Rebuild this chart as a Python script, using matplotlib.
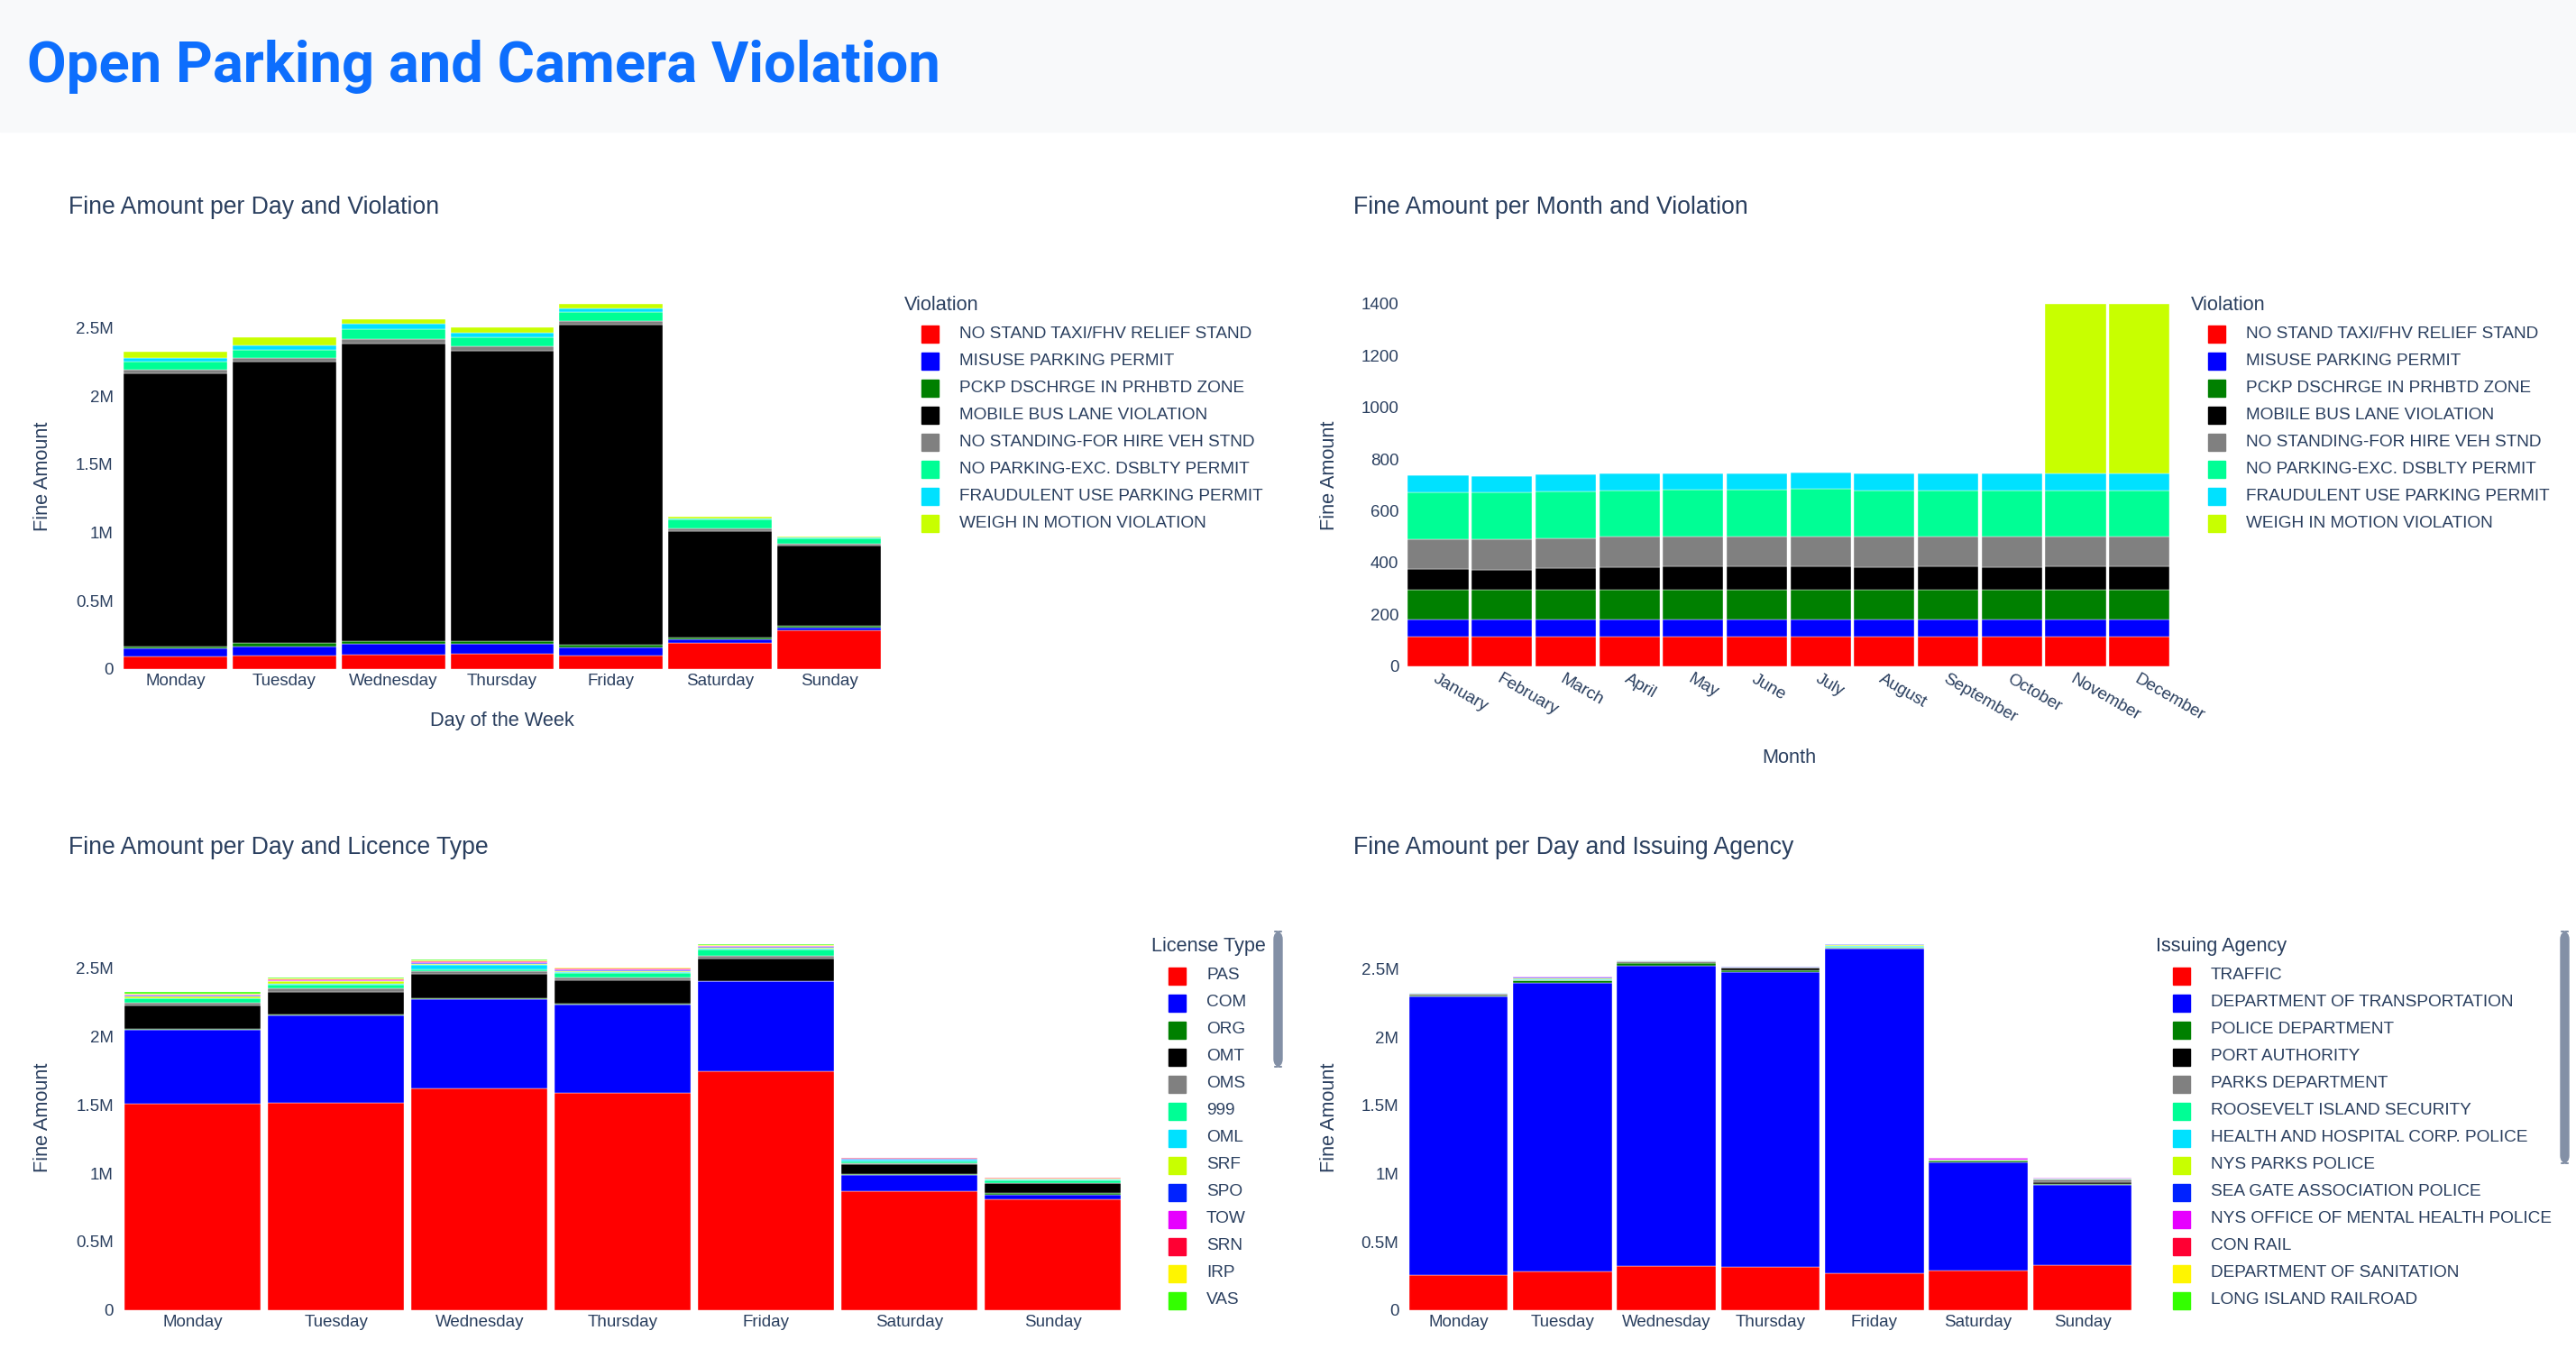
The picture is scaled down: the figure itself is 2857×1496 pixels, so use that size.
import matplotlib.pyplot as plt
from matplotlib.patches import Rectangle, FancyBboxPatch
from matplotlib.ticker import FuncFormatter, MultipleLocator
import numpy as np

# ---- data (fine amounts per day in millions, per month in raw units) ----
days = ["Monday", "Tuesday", "Wednesday", "Thursday", "Friday", "Saturday", "Sunday"]
months = ["January", "February", "March", "April", "May", "June", "July",
          "August", "September", "October", "November", "December"]

violations = ["NO STAND TAXI/FHV RELIEF STAND", "MISUSE PARKING PERMIT",
              "PCKP DSCHRGE IN PRHBTD ZONE", "MOBILE BUS LANE VIOLATION",
              "NO STANDING-FOR HIRE VEH STND", "NO PARKING-EXC. DSBLTY PERMIT",
              "FRAUDULENT USE PARKING PERMIT", "WEIGH IN MOTION VIOLATION"]

# per day and violation
day_taxi_stand = [0.092, 0.097, 0.106, 0.108, 0.097, 0.192, 0.282]
day_misuse_permit = [0.060, 0.066, 0.079, 0.077, 0.057, 0.024, 0.018]
day_pckp_dschrge = [0.013, 0.024, 0.018, 0.018, 0.022, 0.013, 0.017]
day_bus_lane = [2.000, 2.066, 2.180, 2.127, 2.346, 0.780, 0.588]
day_for_hire = [0.025, 0.027, 0.033, 0.036, 0.029, 0.022, 0.013]
day_dsblty = [0.060, 0.055, 0.073, 0.066, 0.061, 0.062, 0.040]
day_fraud = [0.028, 0.037, 0.040, 0.033, 0.029, 0.006, 0.002]
day_weigh = [0.044, 0.058, 0.033, 0.039, 0.033, 0.016, 0.009]

# per month and violation
mon_taxi_stand = [115] * 12
mon_misuse_permit = [64] * 12
mon_pckp_dschrge = [116] * 12
mon_bus_lane = [79, 78, 85, 88, 90, 89, 92, 88, 89, 88, 89, 89]
mon_for_hire = [117, 116, 115, 116, 115, 116, 114, 116, 116, 116, 116, 116]
mon_dsblty = [180, 181, 181, 181, 181, 181, 183, 181, 180, 181, 180, 180]
mon_fraud = [65, 65, 65, 64, 65, 65, 64, 65, 66, 65, 65, 65]
mon_weigh = [0, 0, 0, 0, 0, 0, 0, 0, 0, 0, 655, 655]

# per day and licence type
license_types = ["PAS", "COM", "ORG", "OMT", "OMS", "999", "OML", "SRF",
                 "SPO", "TOW", "SRN", "IRP", "VAS"]
lic_pas = [1.507, 1.514, 1.617, 1.589, 1.743, 0.869, 0.810]
lic_com = [0.541, 0.640, 0.658, 0.644, 0.660, 0.120, 0.035]
lic_org = [0.009, 0.006, 0.007, 0.009, 0.004, 0.002, 0.007]
lic_omt = [0.168, 0.168, 0.172, 0.168, 0.159, 0.073, 0.073]
lic_oms = [0.024, 0.022, 0.026, 0.022, 0.022, 0.008, 0.004]
lic_999 = [0.029, 0.029, 0.012, 0.030, 0.048, 0.014, 0.020]
lic_oml = [0.004, 0.006, 0.028, 0.008, 0.008, 0.010, 0.003]
lic_srf = [0.012, 0.018, 0.008, 0.010, 0.006, 0.006, 0.006]
lic_spo = [0.003, 0.004, 0.010, 0.005, 0.006, 0.003, 0.002]
lic_tow = [0.006, 0.006, 0.008, 0.008, 0.004, 0.002, 0.001]
lic_srn = [0.003, 0.007, 0.004, 0.004, 0.004, 0.003, 0.006]
lic_irp = [0.005, 0.006, 0.006, 0.004, 0.005, 0.003, 0.002]
lic_vas = [0.011, 0.004, 0.004, 0.003, 0.005, 0.002, 0.001]

# per day and issuing agency
agencies = ["TRAFFIC", "DEPARTMENT OF TRANSPORTATION", "POLICE DEPARTMENT",
            "PORT AUTHORITY", "PARKS DEPARTMENT", "ROOSEVELT ISLAND SECURITY",
            "HEALTH AND HOSPITAL CORP. POLICE", "NYS PARKS POLICE",
            "SEA GATE ASSOCIATION POLICE", "NYS OFFICE OF MENTAL HEALTH POLICE",
            "CON RAIL", "DEPARTMENT OF SANITATION", "LONG ISLAND RAILROAD"]
ag_traffic = [0.253, 0.284, 0.319, 0.315, 0.269, 0.289, 0.330]
ag_dot = [2.042, 2.115, 2.203, 2.163, 2.379, 0.792, 0.584]
ag_police = [0.012, 0.016, 0.024, 0.015, 0.004, 0.014, 0.011]
ag_port = [0.002, 0.002, 0.004, 0.014, 0.002, 0.002, 0.010]
ag_parks = [0.010, 0.002, 0.006, 0.002, 0.001, 0.002, 0.020]
ag_roosevelt = [0.002, 0.001, 0.003, 0.001, 0.008, 0.002, 0.008]
ag_hhc = [0.001, 0.004, 0.002, 0.002, 0.008, 0.002, 0.001]
ag_nys_parks = [0.001, 0.004, 0.001, 0.001, 0.001, 0.001, 0.001]
ag_sea_gate = [0.000, 0.012, 0.001, 0.001, 0.008, 0.001, 0.001]
ag_omh = [0.000, 0.001, 0.001, 0.001, 0.001, 0.010, 0.001]
ag_con_rail = [0.000, 0.001, 0.000, 0.000, 0.000, 0.001, 0.000]
ag_sanitation = [0.000, 0.001, 0.000, 0.000, 0.000, 0.001, 0.000]
ag_lirr = [0.000, 0.001, 0.000, 0.000, 0.000, 0.000, 0.000]

palette = ["#ff0000", "#0000ff", "#008000", "#000000", "#808080", "#00fe95",
           "#00e1ff", "#c8ff00", "#0022ff", "#e600ff", "#ff0033", "#fff500",
           "#33ff00"]

day_violation = [day_taxi_stand, day_misuse_permit, day_pckp_dschrge, day_bus_lane,
                 day_for_hire, day_dsblty, day_fraud, day_weigh]
month_violation = [mon_taxi_stand, mon_misuse_permit, mon_pckp_dschrge, mon_bus_lane,
                   mon_for_hire, mon_dsblty, mon_fraud, mon_weigh]
day_license = [lic_pas, lic_com, lic_org, lic_omt, lic_oms, lic_999, lic_oml,
               lic_srf, lic_spo, lic_tow, lic_srn, lic_irp, lic_vas]
day_agency = [ag_traffic, ag_dot, ag_police, ag_port, ag_parks, ag_roosevelt,
              ag_hhc, ag_nys_parks, ag_sea_gate, ag_omh, ag_con_rail,
              ag_sanitation, ag_lirr]

TXT = "#2a3f5f"
W, H = 2857, 1496
plt.rcParams['font.family'] = ['Liberation Sans', 'DejaVu Sans']

fig = plt.figure(figsize=(W / 100, H / 100), dpi=100)
fig.patch.set_facecolor("white")

# header band
fig.patches.append(Rectangle((0, 1 - 146 / H), 1, 146 / H, transform=fig.transFigure,
                             color="#f8f9fa", zorder=0))
fig.text(30 / W, 1 - 90.7 / H, "Open Parking and Camera Violation", fontsize=45.6,
         fontweight="bold", family="Roboto", color="#0d6efd", va="baseline")


def add_axes(l, t, r, b):
    return fig.add_axes([l / W, 1 - b / H, (r - l) / W, (b - t) / H])


def millions(v, pos):
    return "0" if v == 0 else f"{v:g}M"


def stacked(ax, cats, series, colors, step, fmt=None):
    x = np.arange(len(cats))
    bottom = np.zeros(len(cats))
    for vals, c in zip(series, colors):
        ax.bar(x, vals, width=0.95, bottom=bottom, color=c, edgecolor="white",
               linewidth=0.3)
        bottom += np.array(vals, dtype=float)
    ax.set_xlim(-0.5, len(cats) - 0.5)
    ax.set_ylim(0, bottom.max() * 1.052)
    ax.set_xticks(x)
    ax.set_xticklabels(cats)
    ax.yaxis.set_major_locator(MultipleLocator(step))
    if fmt:
        ax.yaxis.set_major_formatter(FuncFormatter(fmt))
    for s in ax.spines.values():
        s.set_visible(False)
    ax.tick_params(length=0, labelsize=13.5, labelcolor=TXT)
    ax.tick_params(axis="x", pad=4)
    ax.tick_params(axis="y", pad=6)


def draw_legend(x, y, title, names, colors):
    fig.text(x / W, 1 - y / H, title, fontsize=15.6, color=TXT, va="center")
    for i, (n, c) in enumerate(zip(names, colors)):
        yc = y + 32 + i * 30
        fig.patches.append(Rectangle(((x + 19) / W, 1 - (yc + 9.5) / H), 19 / W, 19 / H,
                                     transform=fig.transFigure, color=c))
        fig.text((x + 61) / W, 1 - yc / H, n, fontsize=13.7, color=TXT, va="center")


def scrollbar(x, y0, y1):
    fig.patches.append(FancyBboxPatch((x / W, 1 - y1 / H), 9 / W, (y1 - y0) / H,
                                      boxstyle="round,pad=0,rounding_size=0.003",
                                      transform=fig.transFigure, color="#8390a6",
                                      mutation_aspect=W / H))


# top left: day / violation
ax1 = add_axes(134, 316, 980, 741.7)
stacked(ax1, days, day_violation, palette, 0.5, millions)
fig.text(75.8 / W, 1 - 236.7 / H, "Fine Amount per Day and Violation", fontsize=19.2,
         color=TXT, va="baseline")
fig.text(47.4 / W, 1 - 528.6 / H, "Fine Amount", rotation=90, fontsize=15.7,
         color=TXT, ha="center", va="center")
fig.text(557 / W, 1 - 799 / H, "Day of the Week", fontsize=15.7, color=TXT,
         ha="center", va="center")
draw_legend(1003, 338.5, "Violation", violations, palette)

# top right: month / violation
ax2 = add_axes(1559.7, 316, 2408, 738.7)
stacked(ax2, months, month_violation, palette, 200)
for lab in ax2.get_xticklabels():
    lab.set_rotation(-30)
    lab.set_ha("left")
    lab.set_va("top")
    lab.set_rotation_mode("anchor")
fig.text(1501 / W, 1 - 236.7 / H, "Fine Amount per Month and Violation", fontsize=19.2,
         color=TXT, va="baseline")
fig.text(1474 / W, 1 - 527.6 / H, "Fine Amount", rotation=90, fontsize=15.7,
         color=TXT, ha="center", va="center")
fig.text(1984 / W, 1 - 841 / H, "Month", fontsize=15.7, color=TXT,
         ha="center", va="center")
draw_legend(2430, 338.5, "Violation", violations, palette)

# bottom left: day / licence type
ax3 = add_axes(134.3, 1026, 1247, 1452.7)
stacked(ax3, days, day_license, palette, 0.5, millions)
fig.text(75.8 / W, 1 - 947.3 / H, "Fine Amount per Day and Licence Type", fontsize=19.2,
         color=TXT, va="baseline")
fig.text(47.4 / W, 1 - 1239 / H, "Fine Amount", rotation=90, fontsize=15.7,
         color=TXT, ha="center", va="center")
draw_legend(1277, 1050, "License Type", license_types, palette)
scrollbar(1413, 1033, 1183)

# bottom right: day / issuing agency
ax4 = add_axes(1559.7, 1026, 2367.2, 1452.7)
stacked(ax4, days, day_agency, palette, 0.5, millions)
fig.text(1501 / W, 1 - 947.3 / H, "Fine Amount per Day and Issuing Agency", fontsize=19.2,
         color=TXT, va="baseline")
fig.text(1474 / W, 1 - 1239 / H, "Fine Amount", rotation=90, fontsize=15.7,
         color=TXT, ha="center", va="center")
draw_legend(2391, 1050, "Issuing Agency", agencies, palette)
scrollbar(2840, 1033, 1290)

fig.savefig("out.png", dpi=100)
